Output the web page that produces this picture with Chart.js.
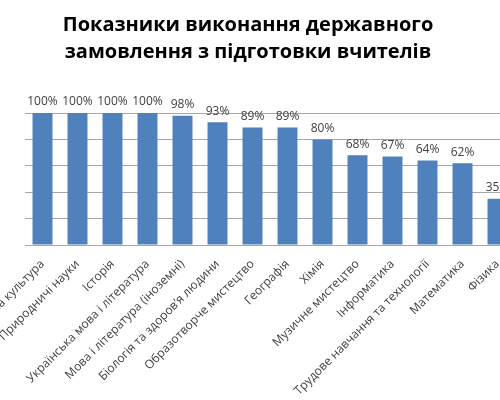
<!DOCTYPE html>
<html>
<head>
<meta charset="utf-8">
<script src="https://cdn.jsdelivr.net/npm/chart.js@4/dist/chart.umd.min.js"></script>
<style>
  html, body { margin: 0; padding: 0; background: #fff; overflow: hidden; width: 500px; height: 400px; }
  canvas { display: block; }
</style>
</head>
<body>
<canvas id="grafik" width="515" height="400"></canvas>
<script>
// дані з діаграми
const predmety = [
  "Фізична культура",
  "Природничі науки",
  "Історія",
  "Українська мова і література",
  "Мова і література (іноземні)",
  "Біологія та здоров’я людини",
  "Образотворче мистецтво",
  "Географія",
  "Хімія",
  "Музичне мистецтво",
  "Інформатика",
  "Трудове навчання та технології",
  "Математика",
  "Фізика"
];
const vykonannia = [100, 100, 100, 100, 98, 93, 89, 89, 80, 68, 67, 64, 62, 35];
const zagolovok = ["Показники виконання державного", "замовлення з підготовки вчителів"];

// підписи значень над стовпцями
const pidpysy = {
  id: "pidpysy",
  afterDatasetsDraw(chart) {
    const ctx = chart.ctx;
    const meta = chart.getDatasetMeta(0);
    ctx.save();
    ctx.font = "12px 'Open Sans'";
    ctx.fillStyle = "#404040";
    ctx.textAlign = "center";
    ctx.textBaseline = "bottom";
    meta.data.forEach((bar, i) => {
      ctx.fillText(chart.data.datasets[0].data[i] + "%", bar.x, bar.y - 5);
    });
    ctx.restore();
  }
};

const ctx = document.getElementById("grafik").getContext("2d");
new Chart(ctx, {
  type: "bar",
  data: {
    labels: predmety,
    datasets: [{
      data: vykonannia,
      backgroundColor: "#4f81bd",
      barPercentage: 0.57,
      categoryPercentage: 1
    }]
  },
  options: {
    responsive: false,
    animation: false,
    // лівий відступ від'ємний, щоб заголовок був по центру видимої частини
    layout: { padding: { left: -19, right: 0, top: 0, bottom: 0 } },
    plugins: {
      legend: { display: false },
      tooltip: { enabled: false },
      title: {
        display: true,
        text: zagolovok,
        color: "#000",
        font: { family: "'Open Sans'", size: 20, weight: "bold", lineHeight: 1.35 },
        padding: { top: 12, bottom: 47 }
      }
    },
    scales: {
      x: {
        grid: { display: false },
        border: { display: false },
        ticks: {
          color: "#404040",
          font: { family: "'Open Sans'", size: 12 },
          minRotation: 45,
          maxRotation: 45,
          autoSkip: false,
          padding: 4
        },
        afterFit(scale) {
          scale.height = 155;
          scale.paddingLeft = 0;
          scale.paddingRight = 0;
        }
      },
      y: {
        min: 0,
        max: 100,
        ticks: { display: false, stepSize: 20 },
        grid: { color: "#a6a6a6", drawTicks: false },
        border: { display: false },
        afterFit(scale) {
          scale.width = 44;
        }
      }
    }
  },
  plugins: [pidpysy]
});
</script>
</body>
</html>
